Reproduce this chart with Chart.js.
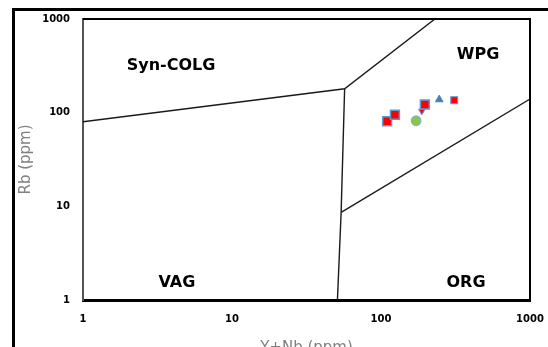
<!DOCTYPE html>
<html><head><meta charset="utf-8">
<script src="https://cdn.jsdelivr.net/npm/chart.js@4/dist/chart.umd.min.js"></script>
<style>
html,body{margin:0;padding:0;background:#fff;overflow:hidden;width:548px;height:347px;}
#wrap{position:relative;width:548px;height:370px;}
#frame{position:absolute;left:12px;top:8px;width:600px;height:400px;border-top:3px solid #000;border-left:3px solid #000;}
canvas{position:absolute;left:0;top:0;}
</style></head><body>
<div id="wrap"><div id="frame"></div><canvas id="c" width="548" height="370"></canvas></div>
<script>
// Axis ticks
const xTickValues = [1, 10, 100, 1000];
const yTickValues = [1, 10, 100, 1000];
const xTickLabels = ['1', '10', '100', '1000'];
const yTickLabels = ['1', '10', '100', '1000'];

// Discrimination boundaries (Y+Nb, Rb)
const boundaryA_x = [1, 57, 230];
const boundaryA_y = [80, 180, 1000];
const boundaryB_x = [57, 54, 51];
const boundaryB_y = [180, 8.6, 1];
const boundaryC_x = [54, 1000];
const boundaryC_y = [8.6, 140];

// Samples
const squaresX = [110, 124, 197];
const squaresY = [81, 95, 122];
const smallSquareX = [310];
const smallSquareY = [136];
const triUpX = [246];
const triUpY = [138];
const circleX = [172];
const circleY = [82];
const triDownX = [188];
const triDownY = [104];

// Field names
const regionNames = ['Syn-COLG', 'WPG', 'VAG', 'ORG'];
const regionX = [3.9, 448, 4.27, 372];
const regionY = [315, 413, 1.52, 1.52];

const pts = (xs, ys) => xs.map((x, i) => ({x: x, y: ys[i]}));

const lineStyle = {showLine: true, borderColor: '#1a1a1a', borderWidth: 1.4, pointRadius: 0, pointHoverRadius: 0, tension: 0, fill: false};

const framePlugin = {
  id: 'frame',
  afterDatasetsDraw(chart) {
    const {ctx, chartArea: a} = chart;
    ctx.save();
    ctx.strokeStyle = '#000';
    ctx.lineWidth = 2;
    ctx.beginPath();
    ctx.moveTo(a.left, a.top); ctx.lineTo(a.right, a.top); ctx.lineTo(a.right, a.bottom);
    ctx.stroke();
    ctx.font = 'bold 16px "DejaVu Sans"';
    ctx.fillStyle = '#000';
    ctx.textAlign = 'center';
    ctx.textBaseline = 'middle';
    regionNames.forEach((n, i) => {
      ctx.fillText(n, chart.scales.x.getPixelForValue(regionX[i]), chart.scales.y.getPixelForValue(regionY[i]));
    });
    ctx.restore();
  }
};

new Chart(document.getElementById('c'), {
  type: 'scatter',
  data: {
    datasets: [
      {label: 'S1', data: pts(squaresX, squaresY), pointStyle: 'rect', pointRadius: 6.3, backgroundColor: '#ff0000', borderColor: '#5b9bd5', borderWidth: 1.5},
      {label: 'S2', data: pts(smallSquareX, smallSquareY), pointStyle: 'rect', pointRadius: 4.8, backgroundColor: '#ff0000', borderColor: '#5b9bd5', borderWidth: 1.2},
      {label: 'S3', data: pts(triUpX, triUpY), pointStyle: 'triangle', pointRadius: 4.4, backgroundColor: '#4a7ebb', borderColor: '#4a7ebb', borderWidth: 1},
      {label: 'S4', data: pts(circleX, circleY), pointStyle: 'circle', pointRadius: 4.8, backgroundColor: '#8dc63f', borderColor: '#7fb2e0', borderWidth: 1.2},
      {label: 'S5', data: pts(triDownX, triDownY), pointStyle: 'triangle', rotation: 180, pointRadius: 3.8, backgroundColor: '#ff0000', borderColor: '#5b9bd5', borderWidth: 1},
      Object.assign({label: 'A', data: pts(boundaryA_x, boundaryA_y)}, lineStyle),
      Object.assign({label: 'B', data: pts(boundaryB_x, boundaryB_y)}, lineStyle),
      Object.assign({label: 'C', data: pts(boundaryC_x, boundaryC_y)}, lineStyle)
    ]
  },
  options: {
    responsive: false,
    animation: false,
    devicePixelRatio: 1,
    layout: {padding: {left: 0, right: 18, top: 19, bottom: 0}},
    plugins: {legend: {display: false}, tooltip: {enabled: false}},
    scales: {
      x: {
        type: 'logarithmic', min: 1, max: 1000,
        afterBuildTicks: s => { s.ticks = xTickValues.map(v => ({value: v})); },
        afterFit: s => { s.height = 70; s.paddingLeft = 0; s.paddingRight = 0; },
        grid: {display: false, drawTicks: false},
        border: {display: true, color: '#000', width: 3},
        ticks: {padding: 13, color: '#000', font: {family: 'DejaVu Sans', weight: 'bold', size: 10},
          callback: (v) => { const i = xTickValues.indexOf(v); return i >= 0 ? xTickLabels[i] : null; }, maxRotation: 0, autoSkip: false},
        title: {display: true, text: 'Y+Nb (ppm)', color: '#808080', font: {family: 'DejaVu Sans', size: 15}, padding: {top: 0, bottom: 13}}
      },
      y: {
        type: 'logarithmic', min: 1, max: 1000,
        afterBuildTicks: s => { s.ticks = yTickValues.map(v => ({value: v})); },
        afterFit: s => { s.width = 83; s.paddingTop = 0; s.paddingBottom = 0; },
        grid: {display: false, drawTicks: false},
        border: {display: true, color: '#555', width: 2},
        ticks: {padding: 13, color: '#000', font: {family: 'DejaVu Sans', weight: 'bold', size: 10},
          callback: (v) => { const i = yTickValues.indexOf(v); return i >= 0 ? yTickLabels[i] : null; }, autoSkip: false},
        title: {display: true, text: 'Rb (ppm)', color: '#808080', font: {family: 'DejaVu Sans', size: 15}, padding: {top: 17, bottom: 0}}
      }
    }
  },
  plugins: [framePlugin]
});
</script>
</body></html>
